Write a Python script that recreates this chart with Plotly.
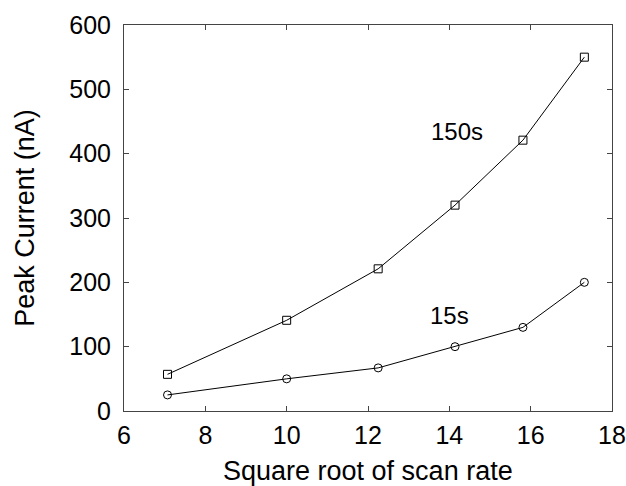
import plotly.graph_objects as go

x_vals = [7.07, 10.0, 12.25, 14.14, 15.81, 17.32]
y_150s = [57, 141, 221, 320, 421, 550]
y_15s = [25, 50, 67, 100, 130, 200]
x_ticks = [6, 8, 10, 12, 14, 16, 18]
y_ticks = [0, 100, 200, 300, 400, 500, 600]
label_150s = ("150s", 14.2, 434)
label_15s = ("15s", 14.0, 148)
x_title = "Square root of scan rate"
y_title = "Peak Current (nA)"

font = "Liberation Sans, Arial, sans-serif"

fig = go.Figure()
fig.add_trace(go.Scatter(
    x=x_vals, y=y_150s, mode="lines+markers",
    line=dict(color="black", width=1),
    marker=dict(symbol="square-open", size=8, color="black", line=dict(width=1)),
    showlegend=False))
fig.add_trace(go.Scatter(
    x=x_vals, y=y_15s, mode="lines+markers",
    line=dict(color="black", width=1),
    marker=dict(symbol="circle-open", size=8, color="black", line=dict(width=1)),
    showlegend=False))

for txt, lx, ly in [label_150s, label_15s]:
    fig.add_annotation(x=lx, y=ly, text=txt, showarrow=False,
                       font=dict(family=font, size=24, color="black"))

# x-axis title placed as an annotation so it can sit near the bottom edge
fig.add_annotation(x=0.5, y=0, xref="paper", yref="paper", text=x_title,
                   showarrow=False, xanchor="center", yanchor="middle", yshift=-60,
                   font=dict(family=font, size=27, color="black"))

axis_common = dict(
    showgrid=False, zeroline=False, showline=True, linecolor="#444444", linewidth=1,
    mirror="ticks", ticks="inside", ticklen=5, tickcolor="#444444",
    tickfont=dict(family=font, size=25, color="black"), automargin=False,
)

fig.update_xaxes(range=[6, 18], tickvals=x_ticks, ticklabelstandoff=2,
                 **axis_common)
fig.update_yaxes(range=[0, 600], tickvals=y_ticks, ticklabelstandoff=7,
                 title=dict(text=y_title, standoff=26,
                            font=dict(family=font, size=27, color="black")),
                 **axis_common)

fig.update_layout(
    width=626, height=486,
    margin=dict(l=124, r=14, t=25, b=75),
    paper_bgcolor="white", plot_bgcolor="white",
)

fig.write_html("out.html")
